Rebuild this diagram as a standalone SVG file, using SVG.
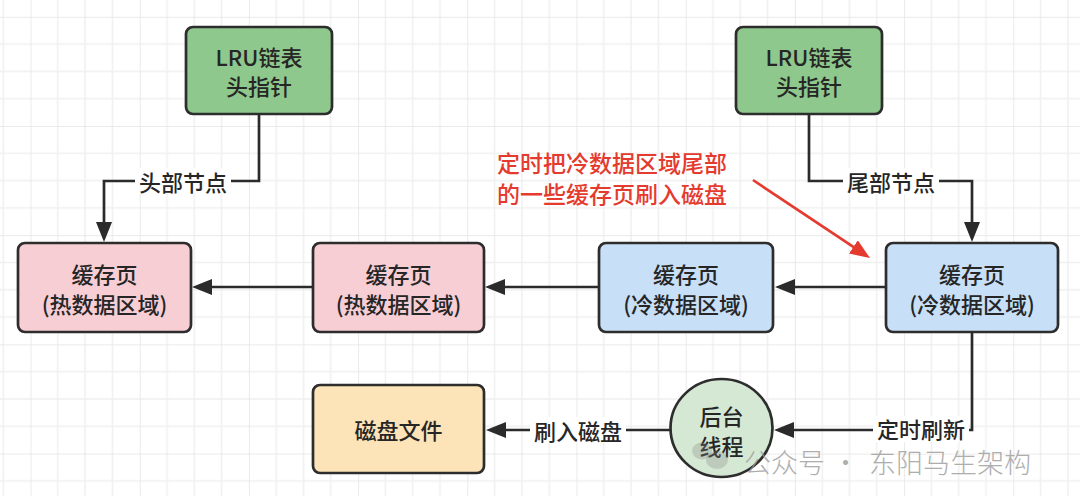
<svg xmlns="http://www.w3.org/2000/svg" width="1080" height="496" viewBox="0 0 1080 496">
<defs>
<pattern id="grid" patternUnits="userSpaceOnUse" x="30.5" y="16.8" width="109.2" height="109.2">
<path d="M27.3 0V109.2M54.6 0V109.2M81.9 0V109.2M0 27.3H109.2M0 54.6H109.2M0 81.9H109.2" stroke="#f0f0f0" stroke-width="1.5" fill="none"/>
<path d="M0 0V109.2M0 0H109.2" stroke="#e4e4e4" stroke-width="1.5" fill="none"/>
</pattern>
<marker id="arr" markerUnits="userSpaceOnUse" viewBox="0 0 20 16" markerWidth="20" markerHeight="16" refX="14" refY="8" orient="auto"><path d="M0 0L20 8L0 16z" fill="#2b2b2b"/></marker>
<marker id="arrRed" markerUnits="userSpaceOnUse" viewBox="0 0 20 16" markerWidth="20" markerHeight="16" refX="14" refY="8" orient="auto"><path d="M0 0L20 8L0 16z" fill="#e53a2e"/></marker>
</defs>
<style>
.node rect,.node ellipse{stroke:#2d2d2d;stroke-width:2.7}
.t{font-family:"Noto Sans CJK SC","Noto Sans",sans-serif;font-size:22px;fill:#262626;text-anchor:middle;dominant-baseline:central;font-weight:500}
.edge{fill:none;stroke:#2b2b2b;stroke-width:2.7}
.bg{fill:#fff}
.green{fill:#8fc88c}
.pink{fill:#f8ced5}
.blue{fill:#c7dff7}
.orange{fill:#fce3b8}
.lgreen{fill:#d5e8d4}
.red{font-family:"Noto Sans CJK SC","Noto Sans",sans-serif;font-size:23px;fill:#e53a2e;font-weight:500;dominant-baseline:central}
.wm{font-family:"Noto Sans CJK SC","Noto Sans",sans-serif;font-size:27px;fill:#9a9a9a;opacity:0.8;font-weight:300;dominant-baseline:central}
</style>
<rect width="1080" height="496" fill="#fff"/>
<rect width="1080" height="496" fill="url(#grid)"/>

<g id="connectors">
<path class="edge" d="M259 114V181H104V236" marker-end="url(#arr)"/>
<path class="edge" d="M809 114V181H972V236" marker-end="url(#arr)"/>
<path class="edge" d="M313 287H198" marker-end="url(#arr)"/>
<path class="edge" d="M599 287H491" marker-end="url(#arr)"/>
<path class="edge" d="M886 287H781" marker-end="url(#arr)"/>
<path class="edge" d="M972 332V430H780" marker-end="url(#arr)"/>
<path class="edge" d="M670 430H492" marker-end="url(#arr)"/>
<path d="M753 180L865 254.7" fill="none" stroke="#e53a2e" stroke-width="2.7" marker-end="url(#arrRed)"/>
<rect class="bg" x="135" y="168" width="96" height="26"/>
<text class="t" x="183" y="181">头部节点</text>
<rect class="bg" x="843" y="168" width="96" height="26"/>
<text class="t" x="891" y="181">尾部节点</text>
<rect class="bg" x="530" y="417" width="96" height="26"/>
<text class="t" x="578" y="430">刷入磁盘</text>
<rect class="bg" x="873" y="416" width="96" height="26"/>
<text class="t" x="921" y="428">定时刷新</text>
</g>

<g id="lru-head" class="node">
<rect class="green" x="186" y="27" width="146" height="87" rx="7"/>
<text class="t" x="259" y="56">LRU链表</text>
<text class="t" x="259" y="85">头指针</text>
</g>
<g id="lru-tail" class="node">
<rect class="green" x="736" y="27" width="146" height="87" rx="7"/>
<text class="t" x="809" y="56">LRU链表</text>
<text class="t" x="809" y="85">头指针</text>
</g>
<g id="hot-page-1" class="node">
<rect class="pink" x="18" y="243" width="173" height="89" rx="7"/>
<text class="t" x="104.5" y="273">缓存页</text>
<text class="t" x="104.5" y="303">(热数据区域)</text>
</g>
<g id="hot-page-2" class="node">
<rect class="pink" x="313" y="243" width="171" height="89" rx="7"/>
<text class="t" x="398.5" y="273">缓存页</text>
<text class="t" x="398.5" y="303">(热数据区域)</text>
</g>
<g id="cold-page-1" class="node">
<rect class="blue" x="599" y="243" width="174" height="89" rx="7"/>
<text class="t" x="686" y="273">缓存页</text>
<text class="t" x="686" y="303">(冷数据区域)</text>
</g>
<g id="cold-page-2" class="node">
<rect class="blue" x="886" y="243" width="172" height="89" rx="7"/>
<text class="t" x="972" y="273">缓存页</text>
<text class="t" x="972" y="303">(冷数据区域)</text>
</g>
<g id="disk-file" class="node">
<rect class="orange" x="313" y="385" width="171" height="88" rx="7"/>
<text class="t" x="398.5" y="429" font-weight="bold">磁盘文件</text>
</g>
<g id="bg-thread" class="node">
<ellipse class="lgreen" cx="721.5" cy="428" rx="51" ry="49"/>
<text class="t" x="721.5" y="415">后台</text>
<text class="t" x="721.5" y="445">线程</text>
</g>

<g id="annotation">
<text class="red" x="497" y="162">定时把冷数据区域尾部</text>
<text class="red" x="497" y="193">的一些缓存页刷入磁盘</text>
</g>

<g id="watermark">
<ellipse cx="702" cy="451" rx="10" ry="8.5" fill="#888" opacity="0.3"/>
<ellipse cx="717" cy="460" rx="11" ry="9" fill="#888" opacity="0.3"/>
<text class="wm" y="461"><tspan x="744">公众号</tspan><tspan x="832">·</tspan><tspan x="869">东阳马生架构</tspan></text>
</g>
</svg>
